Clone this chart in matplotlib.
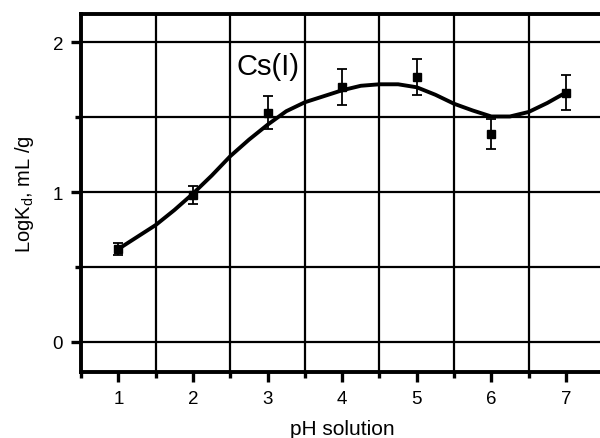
import numpy as np
import matplotlib
matplotlib.use("Agg")
import matplotlib.pyplot as plt
from matplotlib.ticker import MultipleLocator

plt.rcParams['font.family'] = ['Liberation Sans', 'DejaVu Sans']

# measured points (pH, log Kd, error)
ph = [1, 2, 3, 4, 5, 6, 7]
logkd = [0.62, 0.98, 1.53, 1.70, 1.77, 1.39, 1.665]
err = [0.04, 0.06, 0.11, 0.12, 0.12, 0.10, 0.115]

# smooth fitted curve
fit_x = [1.0, 1.25, 1.5, 1.75, 2.0, 2.25, 2.5, 2.75, 3.0, 3.25, 3.5, 3.75, 4.0,
         4.25, 4.5, 4.75, 5.0, 5.25, 5.5, 5.75, 6.0, 6.25, 6.5, 6.75, 7.0]
fit_y = [0.62, 0.70, 0.78, 0.88, 0.99, 1.11, 1.24, 1.35, 1.45, 1.54, 1.60, 1.64, 1.68,
         1.71, 1.72, 1.72, 1.70, 1.65, 1.59, 1.545, 1.505, 1.505, 1.535, 1.595, 1.665]

fig = plt.figure(figsize=(6.0, 4.39), dpi=100)
ax = fig.add_axes([0.1353, 0.151, 0.87, 0.815])

ax.plot(fit_x, fit_y, color='black', lw=2.8, zorder=3, solid_joinstyle='round')
ax.errorbar(ph, logkd, yerr=err, fmt='s', color='black', ms=5.5, elinewidth=1.3,
            capsize=3.5, capthick=1.3, zorder=4)

ax.set_xlim(0.5, 7.5)
ax.set_ylim(-0.2, 2.19)
ax.xaxis.set_major_locator(MultipleLocator(1))
ax.xaxis.set_minor_locator(MultipleLocator(0.5))
ax.yaxis.set_major_locator(MultipleLocator(1))
ax.yaxis.set_minor_locator(MultipleLocator(0.5))

ax.grid(True, which='minor', axis='x', color='black', lw=1.6)
ax.grid(True, which='both', axis='y', color='black', lw=1.6)
ax.set_axisbelow(True)

for s in ax.spines.values():
    s.set_linewidth(2.8)

ax.tick_params(which='major', direction='out', length=7, width=2.4, labelsize=13.5, pad=6)
ax.tick_params(which='minor', direction='out', length=4, width=2.4)

ax.set_xlabel('pH solution', fontsize=15, labelpad=9)
ax.set_ylabel('LogK$_\\mathregular{d}$, mL /g', fontsize=14.5, labelpad=12)

ax.text(3.0, 1.84, 'Cs(I)', fontsize=21, va='center', ha='center')

fig.savefig('out.png', dpi=100)
